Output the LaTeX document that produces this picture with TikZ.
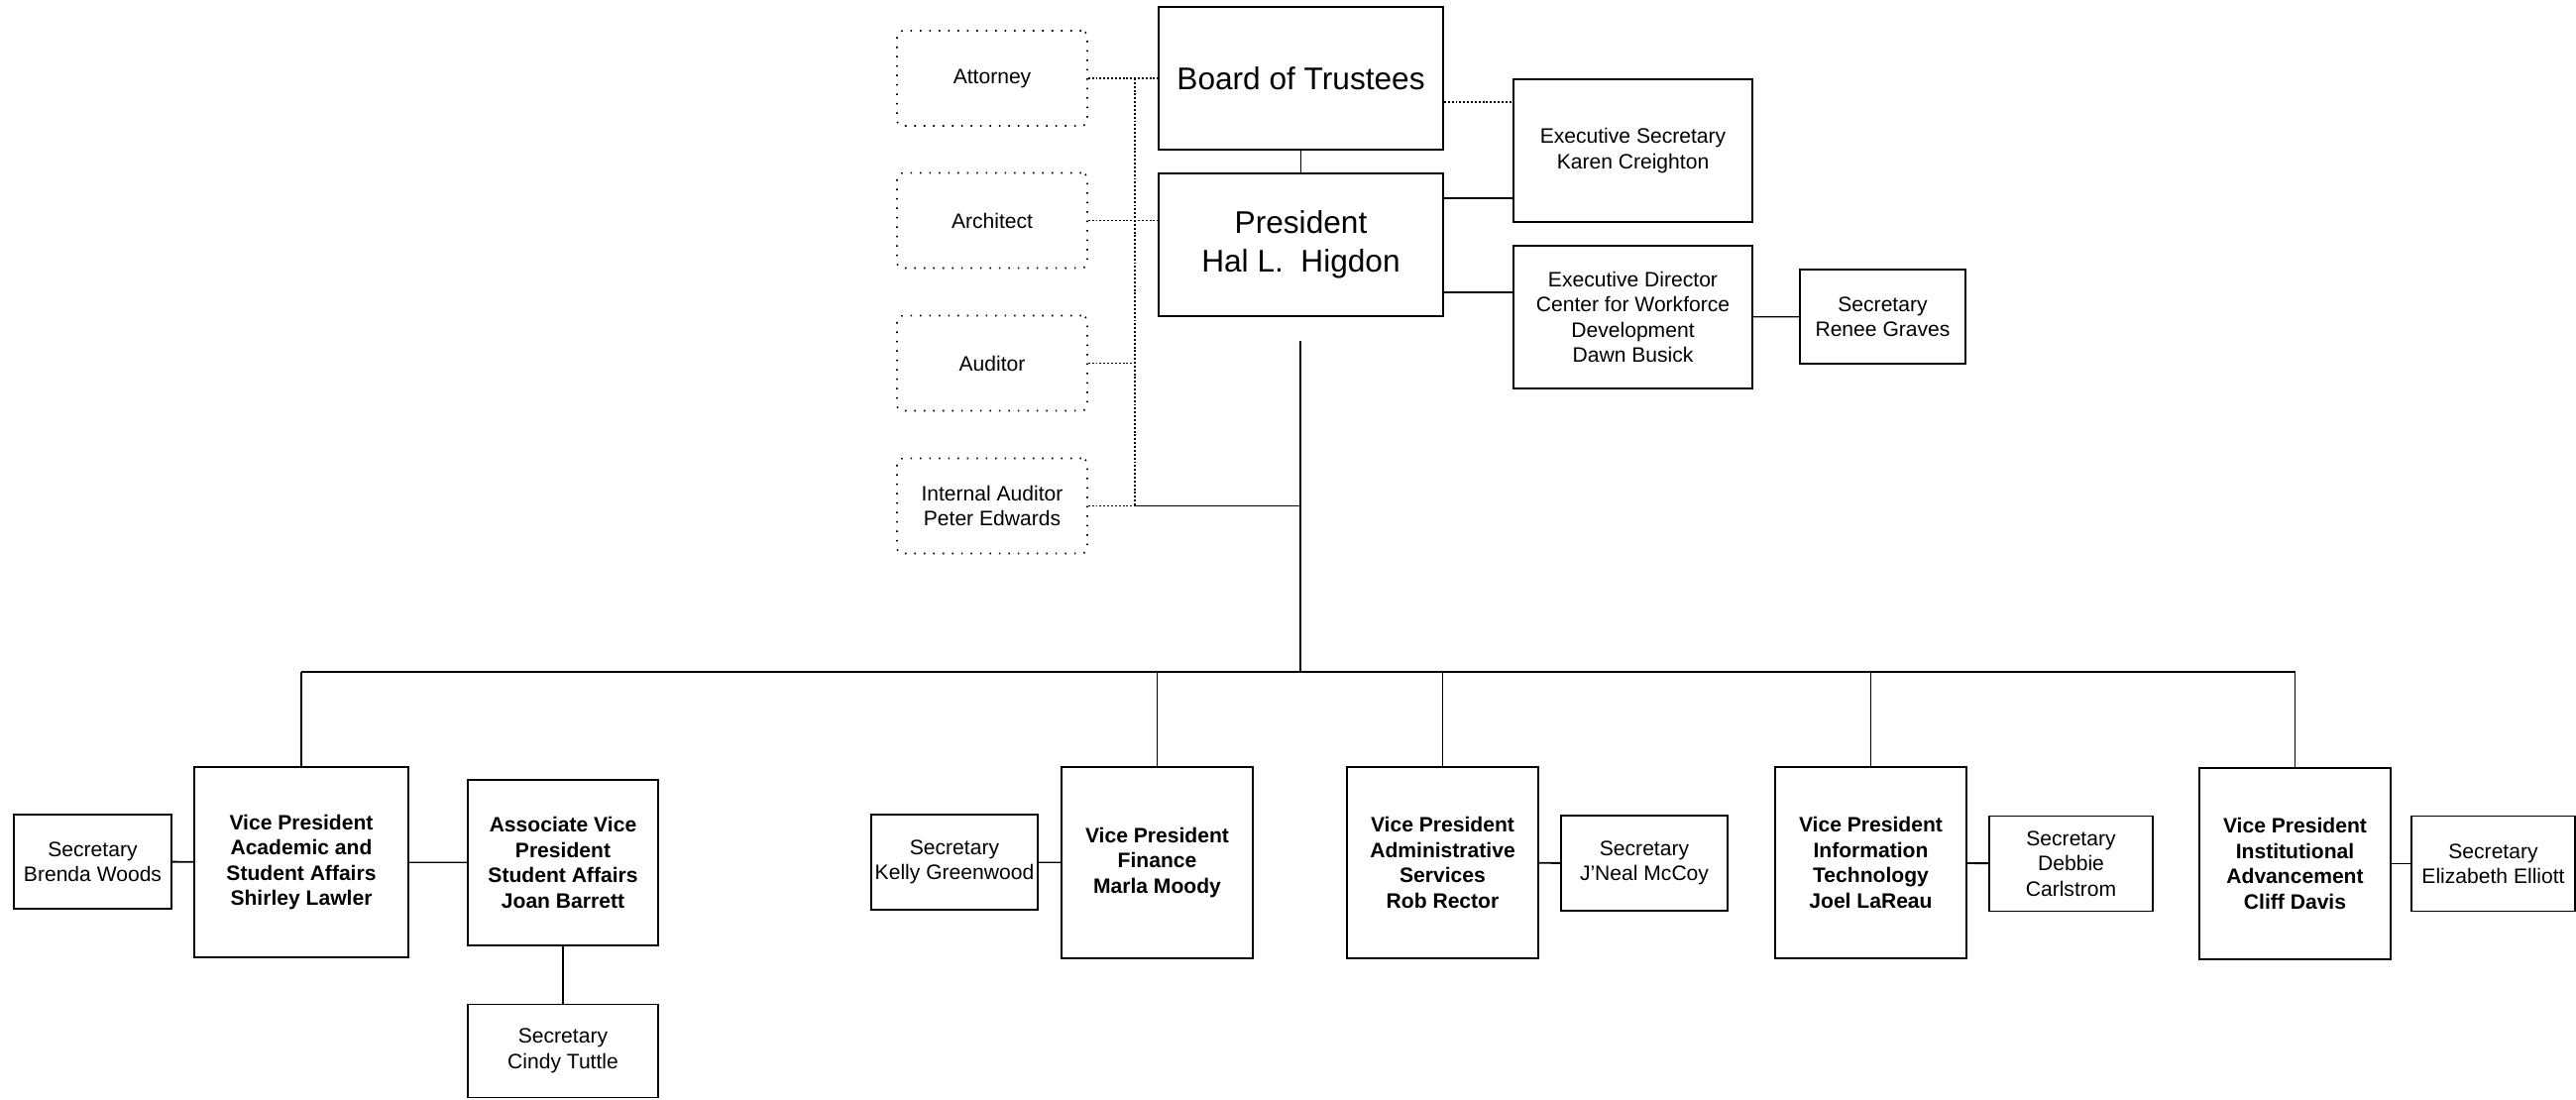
\documentclass[tikz,border=0pt]{standalone}
\usepackage{fontspec}
\setmainfont{Liberation Sans}
\begin{document}
\begin{tikzpicture}[x=0.02cm, y=-0.02cm,
    box/.style={draw, line width=1.1pt, align=center, inner sep=0pt, font=\fontsize{12}{14.5}\selectfont},
    bigbox/.style={box, minimum width=5.74cm, minimum height=2.88cm, font=\fontsize{18}{22}\selectfont},
    execbox/.style={box, minimum width=4.82cm, minimum height=2.88cm},
    advbox/.style={draw, line width=0.9pt, dash pattern=on 0.9pt off 4.5pt, rounded corners=0.12cm, align=center, inner sep=0pt, minimum width=3.84cm, minimum height=1.92cm, font=\fontsize{12}{14.5}\selectfont},
    vpbox/.style={box, minimum width=3.86cm, minimum height=3.86cm, font=\bfseries\fontsize{12}{14.5}\selectfont},
    secbox/.style={box, minimum width=3.36cm, minimum height=1.92cm},
    link/.style={line width=0.7pt},
    boldlink/.style={line width=1.1pt},
    dotlink/.style={line width=1.1pt, dash pattern=on 1.1pt off 1.1pt}]
    \useasboundingbox (0,0) rectangle (2599,1109);
    \node[bigbox] (board) at (1312.5,79) {Board of Trustees};
    \node[bigbox] (pres) at (1312.5,247) {President\\Hal L.\ \ Higdon};
    \node[advbox] (attorney) at (1001,79) {Attorney};
    \node[advbox] (architect) at (1001,222.5) {Architect};
    \node[advbox] (auditor) at (1001,366.5) {Auditor};
    \node[advbox] (intaudit) at (1001,510.5) {Internal Auditor\\Peter Edwards};
    \node[execbox] (execsec) at (1647.5,152) {Executive Secretary\\Karen Creighton};
    \node[execbox] (execdir) at (1647.5,320) {Executive Director\\Center for Workforce\\Development\\Dawn Busick};
    \node[secbox, minimum width=3.34cm, minimum height=1.9cm] (secgraves) at (1899.5,319.5) {Secretary\\Renee Graves};
    \node[secbox, minimum width=3.18cm, minimum height=1.9cm] (secwoods) at (93.5,869.5) {Secretary\\Brenda Woods};
    \node[vpbox, minimum width=4.32cm, minimum height=3.84cm] (vpacad) at (304,870) {Vice President\\Academic and\\Student Affairs\\Shirley Lawler};
    \node[vpbox, minimum width=3.84cm, minimum height=3.34cm] (avpstud) at (568,870.5) {Associate Vice\\President\\Student Affairs\\Joan Barrett};
    \node[secbox, minimum width=3.84cm, minimum height=1.88cm] (sectuttle) at (568,1060.5) {Secretary\\Cindy Tuttle};
    \node[secbox] (secgreenwood) at (963,870) {Secretary\\Kelly Greenwood};
    \node[vpbox] (vpfin) at (1167.5,870.5) {Vice President\\Finance\\Marla Moody};
    \node[vpbox] (vpadmin) at (1455.5,870.5) {Vice President\\Administrative\\Services\\Rob Rector};
    \node[secbox] (secmccoy) at (1659,871) {Secretary\\J'Neal McCoy};
    \node[vpbox] (vpit) at (1887.5,870.5) {Vice President\\Information\\Technology\\Joel LaReau};
    \node[secbox, minimum width=3.3cm] (seccarlstrom) at (2089.5,871.5) {Secretary\\Debbie\\Carlstrom};
    \node[vpbox] (vpinst) at (2315.5,871.5) {Vice President\\Institutional\\Advancement\\Cliff Davis};
    \node[secbox, minimum width=3.3cm] (secelliott) at (2515.5,871.5) {Secretary\\Elizabeth Elliott};
    \coordinate (stem) at (1312,344);
    \coordinate (hub) at (1312,678);
    \coordinate (split) at (1145,510.5);
    \draw[link] (board) -- (pres);
    \draw[dotlink] (attorney) -- (board);
    \draw[dotlink] (architect.east) -- (architect.east -| pres.west);
    \draw[dotlink] (auditor.east) -- (auditor.east -| split);
    \draw[dotlink] (intaudit.east) -- (split);
    \draw[dotlink] (attorney.east -| split) -- (split);
    \draw[link] (split) -- (split -| stem);
    \draw[dotlink] ([yshift=-0.48cm]board.east) -- ([yshift=-0.48cm]board.east -| execsec.west);
    \draw[boldlink] ([yshift=0.94cm]pres.east) -- ([yshift=0.94cm]pres.east -| execsec.west);
    \draw[link] ([yshift=0.5cm]execdir.west) -- ([yshift=0.5cm]execdir.west -| pres.east);
    \draw[link] (execdir) -- (secgraves);
    \draw[link] (stem) -- (hub);
    \draw[link] (vpacad.north |- hub) -- (vpinst.north |- hub);
    \foreach \vp in {vpacad,vpfin,vpadmin,vpit,vpinst}
        \draw[link] (\vp.north) -- (\vp.north |- hub);
    \draw[boldlink] (secwoods) -- (vpacad);
    \draw[link] (vpacad) -- (avpstud);
    \draw[link] (avpstud) -- (sectuttle);
    \draw[link] (secgreenwood) -- (vpfin);
    \draw[boldlink] (vpadmin) -- (secmccoy);
    \draw[boldlink] (vpit) -- (seccarlstrom);
    \draw[boldlink] (vpinst) -- (secelliott);
\end{tikzpicture}
\end{document}
